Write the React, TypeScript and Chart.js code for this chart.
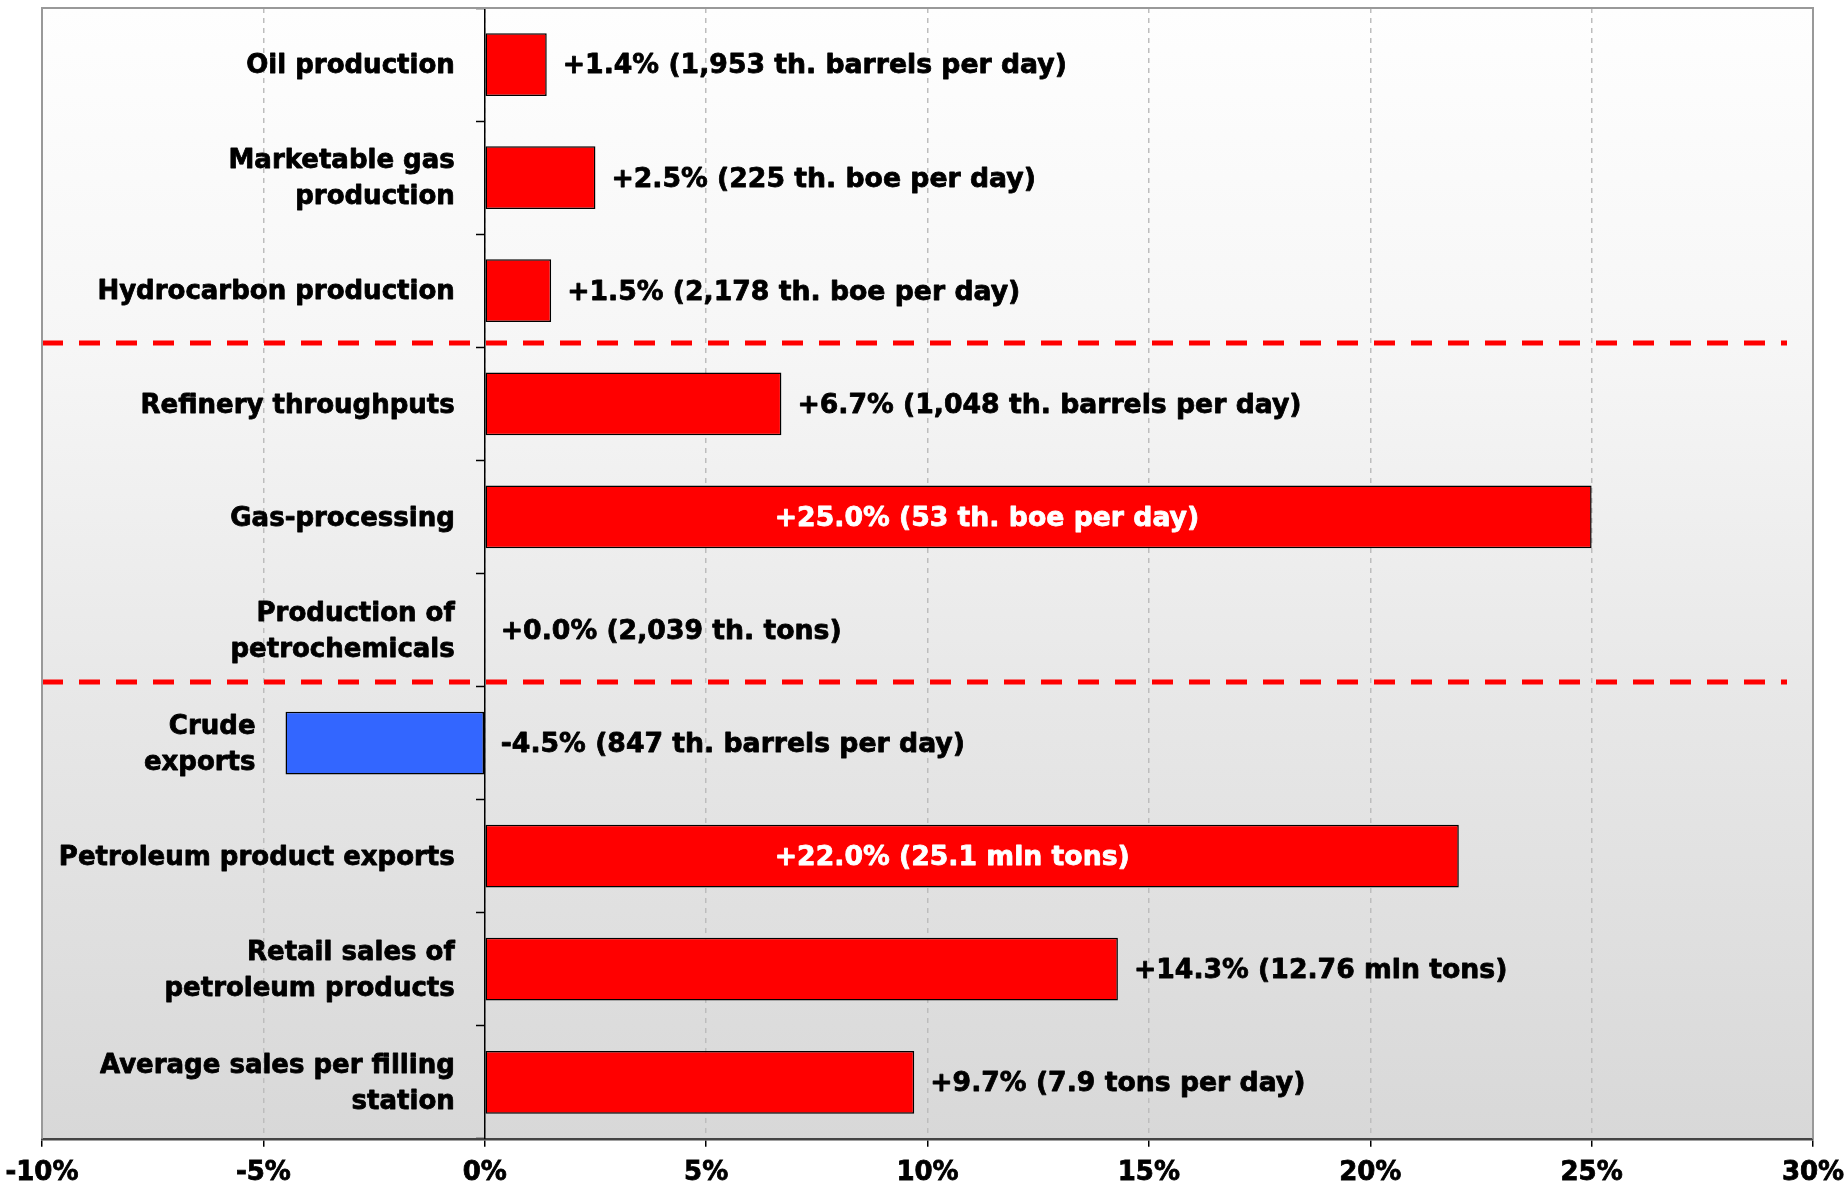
import React, { useEffect, useRef } from "react";
import { Chart, registerables } from "chart.js";

Chart.register(...registerables);

// Year-on-year change of each indicator, in percent
const categories: string[][] = [
  ["Oil production"],
  ["Marketable gas", "production"],
  ["Hydrocarbon production"],
  ["Refinery throughputs"],
  ["Gas-processing"],
  ["Production of", "petrochemicals"],
  ["Crude", "exports"],
  ["Petroleum product exports"],
  ["Retail sales of", "petroleum products"],
  ["Average sales per filling", "station"],
];
const changePct: number[] = [1.4, 2.5, 1.5, 6.7, 25.0, 0.0, -4.5, 22.0, 14.3, 9.7];
const volumes: string[] = [
  "1,953 th. barrels per day",
  "225 th. boe per day",
  "2,178 th. boe per day",
  "1,048 th. barrels per day",
  "53 th. boe per day",
  "2,039 th. tons",
  "847 th. barrels per day",
  "25.1 mln tons",
  "12.76 mln tons",
  "7.9 tons per day",
];
// Labels written in white inside the long bars
const labelInside: boolean[] = [false, false, false, false, true, false, false, true, false, false];
// Rows after which a red dashed separator divides the sections
const sectionBreaks: number[] = [3, 6];
const xTickValues: number[] = [-10, -5, 0, 5, 10, 15, 20, 25, 30];

const FONT = "'DejaVu Sans', Verdana, sans-serif";
const W = 1847;
const H = 1200;
const INSIDE_LABEL_AT = 6.55; // percent value where white in-bar labels start

const fmtChange = (v: number) => (v < 0 ? "-" : "+") + Math.abs(v).toFixed(1) + "%";

// heavy text: fill plus a thin stroke of the same colour
const heavyText = (ctx: any, text: string, x: number, y: number, color: string) => {
  ctx.fillStyle = color;
  ctx.strokeStyle = color;
  ctx.lineWidth = 0.8;
  ctx.lineJoin = "round";
  ctx.fillText(text, x, y);
  ctx.strokeText(text, x, y);
};

const decorPlugin = {
  id: "decor",
  beforeDraw(chart: any) {
    const { ctx, chartArea: a } = chart;
    const g = ctx.createLinearGradient(0, a.top, 0, a.bottom);
    g.addColorStop(0, "#fefefe");
    g.addColorStop(0.3, "#f6f6f6");
    g.addColorStop(0.62, "#e7e7e7");
    g.addColorStop(1, "#d8d8d8");
    ctx.save();
    ctx.fillStyle = g;
    ctx.fillRect(a.left, a.top, a.right - a.left, a.bottom - a.top);
    ctx.restore();
  },
  afterDatasetsDraw(chart: any) {
    const { ctx, chartArea: a } = chart;
    const xs = chart.scales.x;
    const ys = chart.scales.y;

    // section separators
    ctx.save();
    ctx.strokeStyle = "#ff0000";
    ctx.lineWidth = 5;
    ctx.setLineDash([21, 16]);
    sectionBreaks.forEach((r) => {
      const y = Math.round((ys.getPixelForValue(r - 1) + ys.getPixelForValue(r)) / 2) - 4;
      ctx.beginPath();
      ctx.moveTo(a.left, y);
      ctx.lineTo(a.right - 26, y);
      ctx.stroke();
    });
    ctx.restore();

    // plot frame (left, top, right)
    ctx.save();
    ctx.strokeStyle = "#999999";
    ctx.lineWidth = 2;
    ctx.beginPath();
    ctx.moveTo(a.left, a.bottom);
    ctx.lineTo(a.left, a.top);
    ctx.lineTo(a.right, a.top);
    ctx.lineTo(a.right, a.bottom);
    ctx.stroke();
    ctx.restore();

    ctx.save();
    ctx.textBaseline = "middle";
    const x0 = xs.getPixelForValue(0);
    categories.forEach((lines, i) => {
      const v = changePct[i];
      const y = ys.getPixelForValue(i) + 2;
      const xv = xs.getPixelForValue(v);

      // category name, right-aligned just left of the bar
      ctx.font = `bold 26px ${FONT}`;
      ctx.textAlign = "right";
      const right = Math.min(x0, xv) - 30;
      const lh = 36;
      lines.forEach((ln, k) => {
        heavyText(ctx, ln, right, y + (k - (lines.length - 1) / 2) * lh, "#000");
      });

      // value label
      ctx.font = `bold 26.7px ${FONT}`;
      const text = `${fmtChange(v)} (${volumes[i]})`;
      ctx.textAlign = "left";
      if (labelInside[i]) {
        heavyText(ctx, text, xs.getPixelForValue(INSIDE_LABEL_AT), y, "#ffffff");
      } else {
        heavyText(ctx, text, Math.max(x0, xv) + 16, y, "#000");
      }
    });
    ctx.restore();
  },
};

export default function App() {
  const ref = useRef<HTMLCanvasElement | null>(null);

  useEffect(() => {
    if (!ref.current) return;
    const chart = new Chart(ref.current, {
      type: "bar",
      data: {
        labels: categories.map((c) => c.join(" ")),
        datasets: [
          {
            data: changePct,
            backgroundColor: changePct.map((v) => (v < 0 ? "#3366ff" : "#ff0000")),
            borderColor: "#000000",
            borderWidth: 1.5,
            borderSkipped: false,
            barPercentage: 0.555,
            categoryPercentage: 1,
          },
        ],
      },
      options: {
        indexAxis: "y",
        responsive: false,
        animation: false,
        layout: { padding: { left: 42, right: 34, top: 8, bottom: 0 } },
        plugins: {
          legend: { display: false },
          tooltip: { enabled: false },
          title: { display: false },
        },
        scales: {
          x: {
            type: "linear",
            min: -10,
            max: 30,
            afterBuildTicks: (scale: any) => {
              scale.ticks = xTickValues.map((value) => ({ value }));
            },
            afterFit: (scale: any) => {
              // let the end labels run into the page margins
              scale.paddingLeft = 0;
              scale.paddingRight = 0;
            },
            ticks: {
              callback: (v: any) => `${v}%`,
              font: { family: FONT, weight: "bold", size: 26 },
              color: "#000",
              textStrokeColor: "#000",
              textStrokeWidth: 0.8,
              padding: 11,
              maxRotation: 0,
              autoSkip: false,
            },
            grid: {
              color: "#bdbdbd",
              lineWidth: 1.5,
              drawTicks: true,
              tickLength: 8,
              tickColor: "#000",
              tickWidth: 1.5,
            },
            border: { display: true, color: "#444444", width: 2.5, dash: [5, 5] },
          },
          y: {
            type: "category",
            position: { x: 0 } as any,
            offset: true,
            ticks: { display: false },
            grid: {
              drawOnChartArea: false,
              drawTicks: true,
              tickLength: 8,
              tickColor: "#000",
              tickWidth: 1.5,
              offset: true,
            },
            border: { display: true, color: "#000", width: 1.5 },
          },
        },
      } as any,
      plugins: [decorPlugin],
    });
    return () => chart.destroy();
  }, []);

  return (
    <div
      style={{
        position: "fixed",
        left: 0,
        top: 0,
        width: W,
        height: H,
        background: "#ffffff",
        overflow: "hidden",
      }}
    >
      <canvas ref={ref} width={W} height={H} style={{ width: W, height: H, display: "block" }} />
    </div>
  );
}
